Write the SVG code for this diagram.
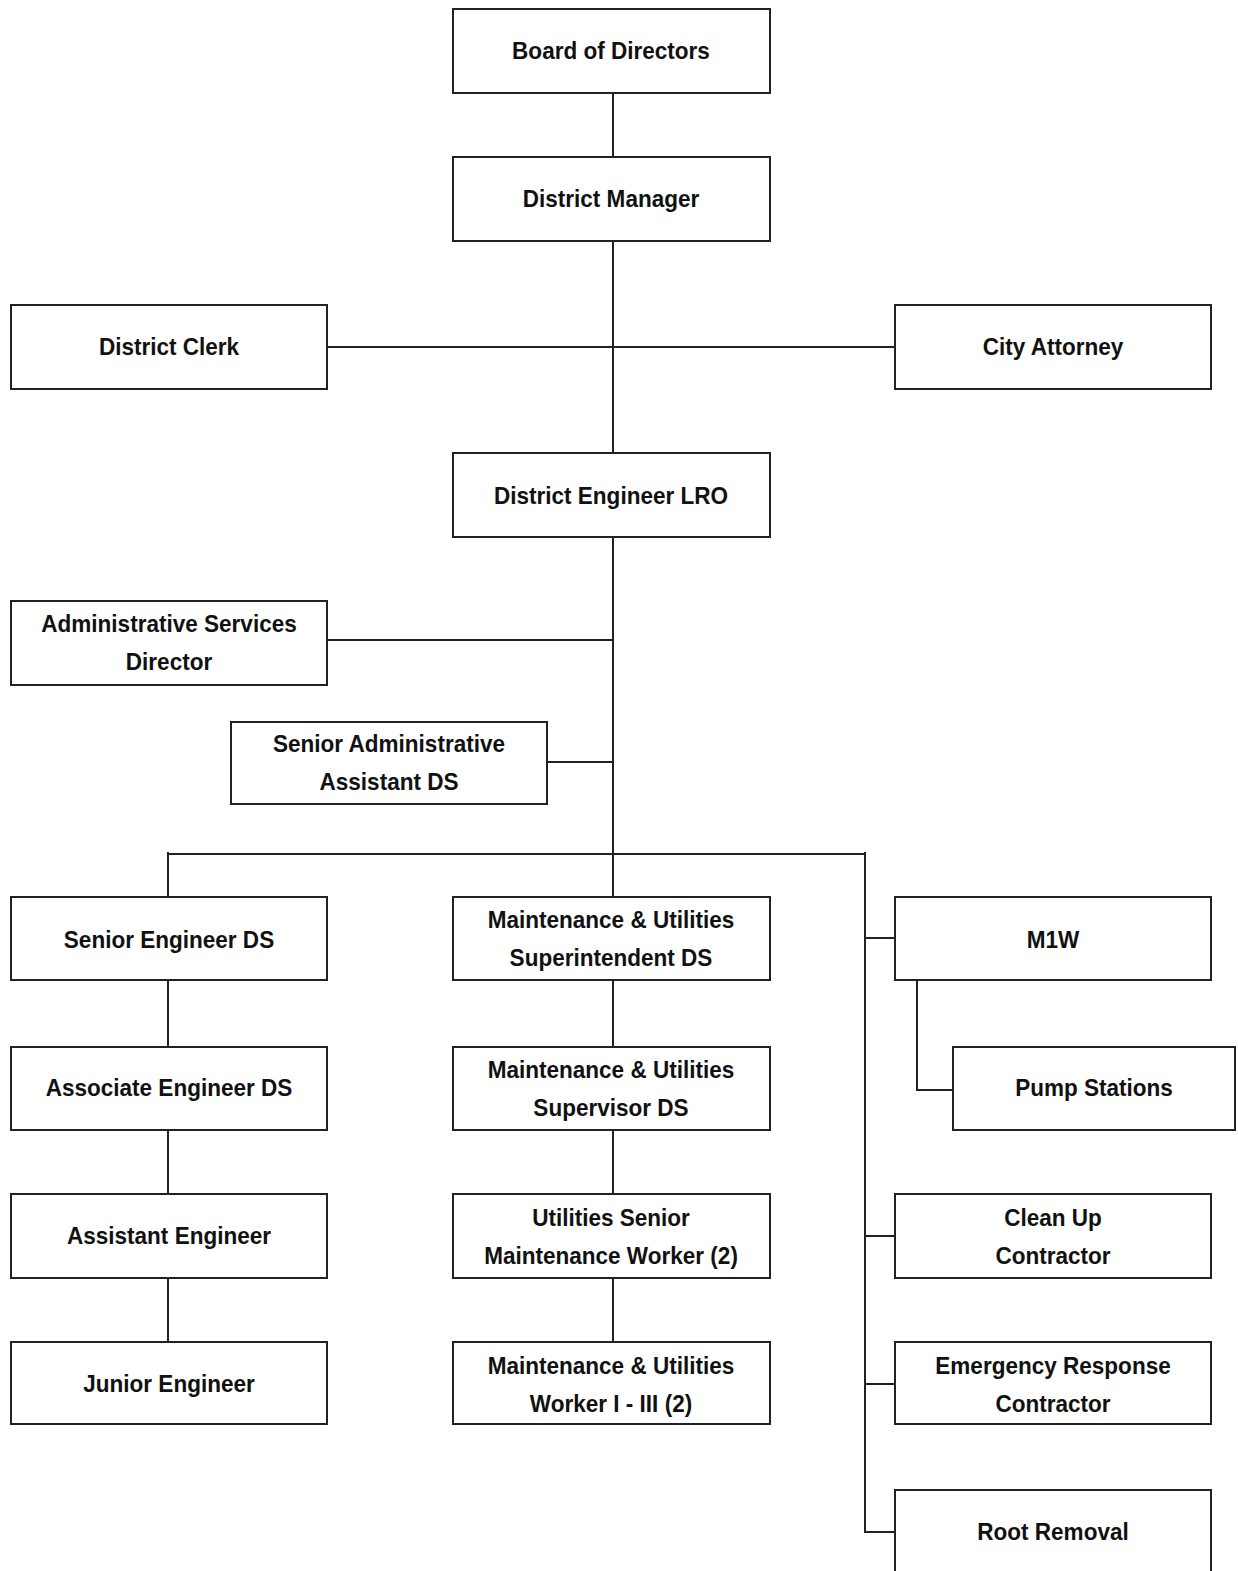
<svg xmlns="http://www.w3.org/2000/svg" width="1238" height="1571" viewBox="0 0 1238 1571">
<style>
rect.box{fill:#fff;stroke:#222;stroke-width:2}
text{font-family:"Liberation Sans",Arial,sans-serif;font-weight:bold;font-size:24.5px;fill:#111;text-anchor:middle}
#connectors path{fill:none;stroke:#222;stroke-width:2}
</style>
<rect width="1238" height="1571" fill="#fff"/>
<g id="connectors">
<path d="M613 93V157"/>
<path d="M613 241V453"/>
<path d="M327 347H896"/>
<path d="M613 537V897"/>
<path d="M327 640H613"/>
<path d="M547 762H613"/>
<path d="M168 854H865"/>
<path d="M168 852V897"/>
<path d="M865 852V1532H895"/>
<path d="M865 938H895"/>
<path d="M865 1236H895"/>
<path d="M865 1384H895"/>
<path d="M917 980V1090H953"/>
<path d="M168 980V1047M168 1130V1194M168 1278V1342"/>
<path d="M613 980V1047M613 1130V1194M613 1278V1342"/>
</g>
<g id="board"><rect class="box" x="453" y="9" width="317" height="84"/><text transform="translate(611 59) scale(0.92 1)">Board of Directors</text></g>
<g id="district-manager"><rect class="box" x="453" y="157" width="317" height="84"/><text transform="translate(611 207) scale(0.92 1)">District Manager</text></g>
<g id="district-clerk"><rect class="box" x="11" y="305" width="316" height="84"/><text transform="translate(169 355) scale(0.92 1)">District Clerk</text></g>
<g id="city-attorney"><rect class="box" x="895" y="305" width="316" height="84"/><text transform="translate(1053 355) scale(0.92 1)">City Attorney</text></g>
<g id="district-engineer"><rect class="box" x="453" y="453" width="317" height="84"/><text transform="translate(611 504) scale(0.92 1)">District Engineer LRO</text></g>
<g id="admin-services"><rect class="box" x="11" y="601" width="316" height="84"/><text transform="translate(169 632) scale(0.92 1)">Administrative Services</text><text transform="translate(169 670) scale(0.92 1)">Director</text></g>
<g id="senior-admin"><rect class="box" x="231" y="722" width="316" height="82"/><text transform="translate(389 752) scale(0.92 1)">Senior Administrative</text><text transform="translate(389 790) scale(0.92 1)">Assistant DS</text></g>
<g id="senior-engineer"><rect class="box" x="11" y="897" width="316" height="83"/><text transform="translate(169 948) scale(0.92 1)">Senior Engineer DS</text></g>
<g id="mu-superintendent"><rect class="box" x="453" y="897" width="317" height="83"/><text transform="translate(611 928) scale(0.92 1)">Maintenance &amp; Utilities</text><text transform="translate(611 966) scale(0.92 1)">Superintendent DS</text></g>
<g id="m1w"><rect class="box" x="895" y="897" width="316" height="83"/><text transform="translate(1053 948) scale(0.92 1)">M1W</text></g>
<g id="pump-stations"><rect class="box" x="953" y="1047" width="282" height="83"/><text transform="translate(1094 1096) scale(0.92 1)">Pump Stations</text></g>
<g id="associate-engineer"><rect class="box" x="11" y="1047" width="316" height="83"/><text transform="translate(169 1096) scale(0.92 1)">Associate Engineer DS</text></g>
<g id="mu-supervisor"><rect class="box" x="453" y="1047" width="317" height="83"/><text transform="translate(611 1078) scale(0.92 1)">Maintenance &amp; Utilities</text><text transform="translate(611 1116) scale(0.92 1)">Supervisor DS</text></g>
<g id="assistant-engineer"><rect class="box" x="11" y="1194" width="316" height="84"/><text transform="translate(169 1244) scale(0.92 1)">Assistant Engineer</text></g>
<g id="utilities-senior"><rect class="box" x="453" y="1194" width="317" height="84"/><text transform="translate(611 1226) scale(0.92 1)">Utilities Senior</text><text transform="translate(611 1264) scale(0.92 1)">Maintenance Worker (2)</text></g>
<g id="clean-up"><rect class="box" x="895" y="1194" width="316" height="84"/><text transform="translate(1053 1226) scale(0.92 1)">Clean Up</text><text transform="translate(1053 1264) scale(0.92 1)">Contractor</text></g>
<g id="junior-engineer"><rect class="box" x="11" y="1342" width="316" height="82"/><text transform="translate(169 1392) scale(0.92 1)">Junior Engineer</text></g>
<g id="mu-worker"><rect class="box" x="453" y="1342" width="317" height="82"/><text transform="translate(611 1374) scale(0.92 1)">Maintenance &amp; Utilities</text><text transform="translate(611 1412) scale(0.92 1)">Worker I - III (2)</text></g>
<g id="emergency-response"><rect class="box" x="895" y="1342" width="316" height="82"/><text transform="translate(1053 1374) scale(0.92 1)">Emergency Response</text><text transform="translate(1053 1412) scale(0.92 1)">Contractor</text></g>
<g id="root-removal"><rect class="box" x="895" y="1490" width="316" height="90"/><text transform="translate(1053 1540) scale(0.92 1)">Root Removal</text></g>
</svg>
